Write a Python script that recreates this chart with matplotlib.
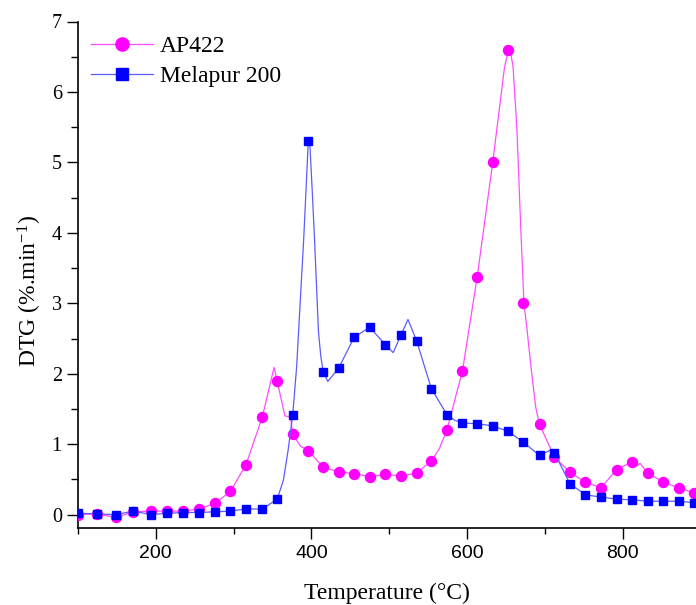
import numpy as np
import matplotlib
matplotlib.use("Agg")
import matplotlib.pyplot as plt
from matplotlib.lines import Line2D
from matplotlib.ticker import MultipleLocator

plt.rcParams["mathtext.fontset"] = "custom"
plt.rcParams["mathtext.rm"] = "Liberation Serif"
plt.rcParams["mathtext.it"] = "Liberation Serif:italic"
plt.rcParams["axes.unicode_minus"] = False

# Marker positions (temperature, degC) shared by both curves
temp_markers = [100, 124, 149, 171, 194, 215, 235, 255, 276, 296, 316, 337, 356, 376,
                396, 415, 435, 455, 475, 495, 515, 535, 554, 574, 594, 613, 633, 653,
                672, 693, 712, 732, 752, 772, 792, 812, 832, 852, 872, 891]

ap422_markers = [0.00, 0.01, -0.04, 0.04, 0.05, 0.05, 0.05, 0.08, 0.16, 0.33, 0.71, 1.39,
                 1.89, 1.14, 0.91, 0.67, 0.61, 0.58, 0.54, 0.57, 0.55, 0.59, 0.76, 1.20,
                 2.04, 3.38, 5.01, 6.59, 3.00, 1.28, 0.82, 0.60, 0.46, 0.38, 0.64, 0.75,
                 0.59, 0.46, 0.38, 0.31]

melapur_markers = [0.02, 0.01, 0.00, 0.05, 0.00, 0.02, 0.03, 0.03, 0.04, 0.05, 0.08, 0.08,
                   0.22, 1.42, 5.31, 2.03, 2.08, 2.52, 2.66, 2.41, 2.55, 2.47, 1.79, 1.42,
                   1.30, 1.29, 1.26, 1.18, 1.03, 0.84, 0.88, 0.44, 0.28, 0.25, 0.22, 0.21,
                   0.19, 0.19, 0.19, 0.17]

# Thin connecting lines (finer data than the markers)
ap422_line_t = [100, 124, 149, 171, 194, 215, 235, 255, 276, 296, 316, 337, 352, 356, 366,
                373, 376, 386, 396, 415, 435, 455, 475, 495, 515, 535, 554, 564, 574, 594,
                613, 633, 648, 653, 656, 659, 664, 669, 673, 677, 682, 688, 693, 712, 732,
                752, 772, 792, 812, 818, 822, 832, 852, 872, 891, 895]
ap422_line_v = [0.00, 0.01, -0.04, 0.04, 0.05, 0.05, 0.05, 0.08, 0.16, 0.33, 0.71, 1.39,
                2.09, 1.89, 1.40, 1.39, 1.14, 0.97, 0.91, 0.67, 0.61, 0.58, 0.54, 0.57,
                0.55, 0.59, 0.76, 0.93, 1.20, 2.04, 3.38, 5.01, 6.35, 6.59, 6.55, 6.36,
                5.46, 4.04, 3.00, 2.62, 2.10, 1.53, 1.28, 0.82, 0.60, 0.46, 0.38, 0.64,
                0.75, 0.69, 0.73, 0.59, 0.46, 0.38, 0.31, 0.29]

melapur_line_t = [100, 124, 149, 171, 194, 215, 235, 255, 276, 296, 316, 337, 356, 364,
                  370, 376, 381, 385, 390, 393, 396, 398, 401, 404, 409, 412, 415, 421, 435,
                  455, 475, 495, 505, 515, 524, 535, 554, 574, 584, 594, 613, 633, 653, 672,
                  693, 708, 712, 732, 752, 772, 792, 812, 832, 852, 872, 891, 895]
melapur_line_v = [0.02, 0.01, 0.00, 0.05, 0.00, 0.02, 0.03, 0.03, 0.04, 0.05, 0.08, 0.08,
                  0.22, 0.49, 0.91, 1.42, 2.10, 2.90, 3.90, 4.60, 5.31, 5.25, 4.60, 3.90,
                  2.60, 2.25, 2.03, 1.89, 2.08, 2.52, 2.66, 2.41, 2.30, 2.55, 2.77, 2.47,
                  1.79, 1.42, 1.34, 1.30, 1.29, 1.26, 1.18, 1.03, 0.84, 0.92, 0.88, 0.44,
                  0.28, 0.25, 0.22, 0.21, 0.19, 0.19, 0.19, 0.17, 0.17]

labels = ["AP422", "Melapur 200"]

serif = "Liberation Serif"
sans = "Liberation Sans"

fig = plt.figure(figsize=(6.96, 6.05), dpi=100)
ax = fig.add_axes([77.9 / 696, 1 - 528 / 605, 1 - 77.9 / 696, (528 - 21.5) / 605])

ax.plot(ap422_line_t, ap422_line_v, color="#ff4dff", lw=0.9, zorder=2)
ax.plot(temp_markers, ap422_markers, linestyle="none", marker="o", ms=7.2,
        color="#ff00ff", zorder=3)
ax.plot(melapur_line_t, melapur_line_v, color="#5c5cff", lw=0.9, zorder=4)
ax.plot(temp_markers, melapur_markers, linestyle="none", marker="s", ms=6.4,
        color="#0000ff", zorder=5)

ax.set_xlim(100, 894)
ax.set_ylim(-0.19, 7)

for s in ["top", "right"]:
    ax.spines[s].set_visible(False)
for s in ["left", "bottom"]:
    ax.spines[s].set_linewidth(1.2)

ax.xaxis.set_major_locator(MultipleLocator(200))
ax.xaxis.set_minor_locator(MultipleLocator(100))
ax.yaxis.set_major_locator(MultipleLocator(1))
ax.yaxis.set_minor_locator(MultipleLocator(0.5))
ax.tick_params(axis="x", which="major", direction="out", length=7.6, width=1, pad=4.5)
ax.tick_params(axis="x", which="minor", direction="out", length=4, width=1)
ax.tick_params(axis="y", which="major", direction="out", length=7.6, width=1, pad=4)
ax.tick_params(axis="y", which="minor", direction="out", length=5.2, width=1)

for lab in ax.get_xticklabels():
    lab.set_fontfamily(sans)
    lab.set_fontsize(14)
for lab in ax.get_yticklabels():
    lab.set_fontfamily(serif)
    lab.set_fontsize(14.5)

ax.set_xlabel("Temperature (°C)", fontfamily=serif, fontsize=17, labelpad=15)
ax.set_ylabel("DTG (%.min$^{-1}$)", fontfamily=serif, fontsize=17)
ax.yaxis.set_label_coords(-0.055, 0.468)

# legend markers are drawn a bit larger than the plotted ones
handles = [
    Line2D([], [], color="#ff4dff", lw=0.9, marker="o", ms=9.5,
           markerfacecolor="#ff00ff", markeredgecolor="#ff00ff"),
    Line2D([], [], color="#5c5cff", lw=0.9, marker="s", ms=8.5,
           markerfacecolor="#0000ff", markeredgecolor="#0000ff"),
]
ax.legend(handles, labels, loc="upper left", bbox_to_anchor=(12.8 / 618.1, 1 - 14 / 506.5),
          frameon=False, borderpad=0, borderaxespad=0, handlelength=2.63,
          handletextpad=0.3, labelspacing=0.36, numpoints=1,
          prop={"family": serif, "size": 17})

fig.savefig("out.png", dpi=100)
